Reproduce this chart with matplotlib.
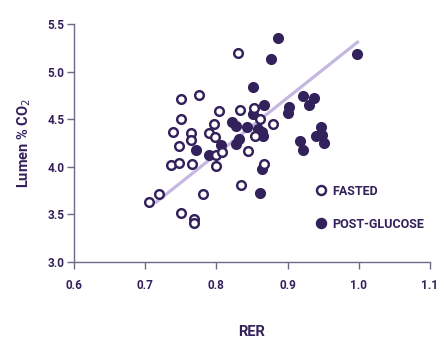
import matplotlib
matplotlib.use("Agg")
import matplotlib.pyplot as plt
from matplotlib.lines import Line2D

# fasted (open circles)
fasted_rer = [0.705, 0.720, 0.736, 0.747, 0.739, 0.747, 0.750, 0.750, 0.750, 0.764,
              0.764, 0.766, 0.769, 0.769, 0.776, 0.781, 0.790, 0.797, 0.798, 0.799,
              0.799, 0.804, 0.808, 0.830, 0.833, 0.834, 0.845, 0.853, 0.854, 0.861,
              0.867, 0.879]
fasted_co2 = [3.63, 3.71, 4.02, 4.04, 4.37, 4.22, 4.50, 4.71, 3.51, 4.36,
              4.28, 4.03, 3.45, 3.41, 4.75, 3.71, 4.36, 4.45, 4.31, 4.12,
              4.01, 4.59, 4.16, 5.20, 4.60, 3.81, 4.17, 4.62, 4.32, 4.50,
              4.03, 4.45]

# post-glucose (filled circles)
glucose_rer = [0.772, 0.790, 0.807, 0.822, 0.827, 0.828, 0.832, 0.843, 0.851, 0.852,
               0.859, 0.864, 0.866, 0.861, 0.864, 0.867, 0.877, 0.887, 0.901, 0.902,
               0.917, 0.921, 0.921, 0.930, 0.937, 0.940, 0.947, 0.948, 0.951, 0.997]
glucose_co2 = [4.18, 4.12, 4.23, 4.47, 4.43, 4.24, 4.29, 4.42, 4.84, 4.55,
               4.40, 4.37, 4.32, 3.73, 3.98, 4.65, 5.13, 5.35, 4.57, 4.63,
               4.27, 4.18, 4.74, 4.65, 4.72, 4.32, 4.42, 4.33, 4.25, 5.19]

# trend line end points
fit_rer = [0.714, 1.0]
fit_co2 = [3.62, 5.32]

x_ticks = [0.6, 0.7, 0.8, 0.9, 1.0, 1.1]
y_ticks = [3.0, 3.5, 4.0, 4.5, 5.0, 5.5]

dark = "#33215c"
spine = "#6e6a86"
lav = "#c5b8e0"

plt.rcParams['font.family'] = ['Roboto', 'DejaVu Sans']

fig = plt.figure(figsize=(4.46, 3.40), dpi=100)
ax = fig.add_axes([0.1659, 0.2294, 0.7982, 0.7])

ax.plot(fit_rer, fit_co2, color=lav, lw=2.3, solid_capstyle='butt', zorder=1)
ax.scatter(fasted_rer, fasted_co2, s=39, facecolors='white', edgecolors=dark,
           linewidths=1.75, zorder=3)
ax.scatter(glucose_rer, glucose_co2, s=39, facecolors=dark, edgecolors=dark,
           linewidths=1.75, zorder=2)

ax.set_xlim(0.6, 1.1)
ax.set_ylim(3.0, 5.5)
ax.set_xticks(x_ticks)
ax.set_yticks(y_ticks)
ax.set_xticklabels([f"{v:.1f}" for v in x_ticks])
ax.set_yticklabels([f"{v:.1f}" for v in y_ticks])

for s in ['top', 'right']:
    ax.spines[s].set_visible(False)
for s in ['left', 'bottom']:
    ax.spines[s].set_color(spine)
    ax.spines[s].set_linewidth(1.0)

ax.tick_params(colors=spine, length=5, width=1.0, labelsize=8.5, labelcolor=dark)
for lab in ax.get_xticklabels() + ax.get_yticklabels():
    lab.set_fontweight('bold')
ax.tick_params(axis='x', pad=7)
ax.tick_params(axis='y', pad=2)

ax.set_xlabel("RER", fontsize=10.5, color=dark, fontweight='bold', labelpad=24)
ax.set_ylabel("Lumen % CO$_2$", fontsize=10.5, color=dark, fontweight='bold', labelpad=10)

handles = [
    Line2D([], [], ls='none', marker='o', ms=6.5, mfc='white', mec=dark, mew=1.75),
    Line2D([], [], ls='none', marker='o', ms=6.5, mfc=dark, mec=dark, mew=1.75),
]
leg = ax.legend(handles, ["FASTED", "POST-GLUCOSE"], frameon=False,
                loc='center left', bbox_to_anchor=(0.66, 0.229),
                handlelength=1.0, handletextpad=0.4, labelspacing=1.6,
                borderpad=0, prop={'size': 9, 'weight': 'bold'})
for t in leg.get_texts():
    t.set_color(dark)

fig.savefig("out.png", dpi=100)
